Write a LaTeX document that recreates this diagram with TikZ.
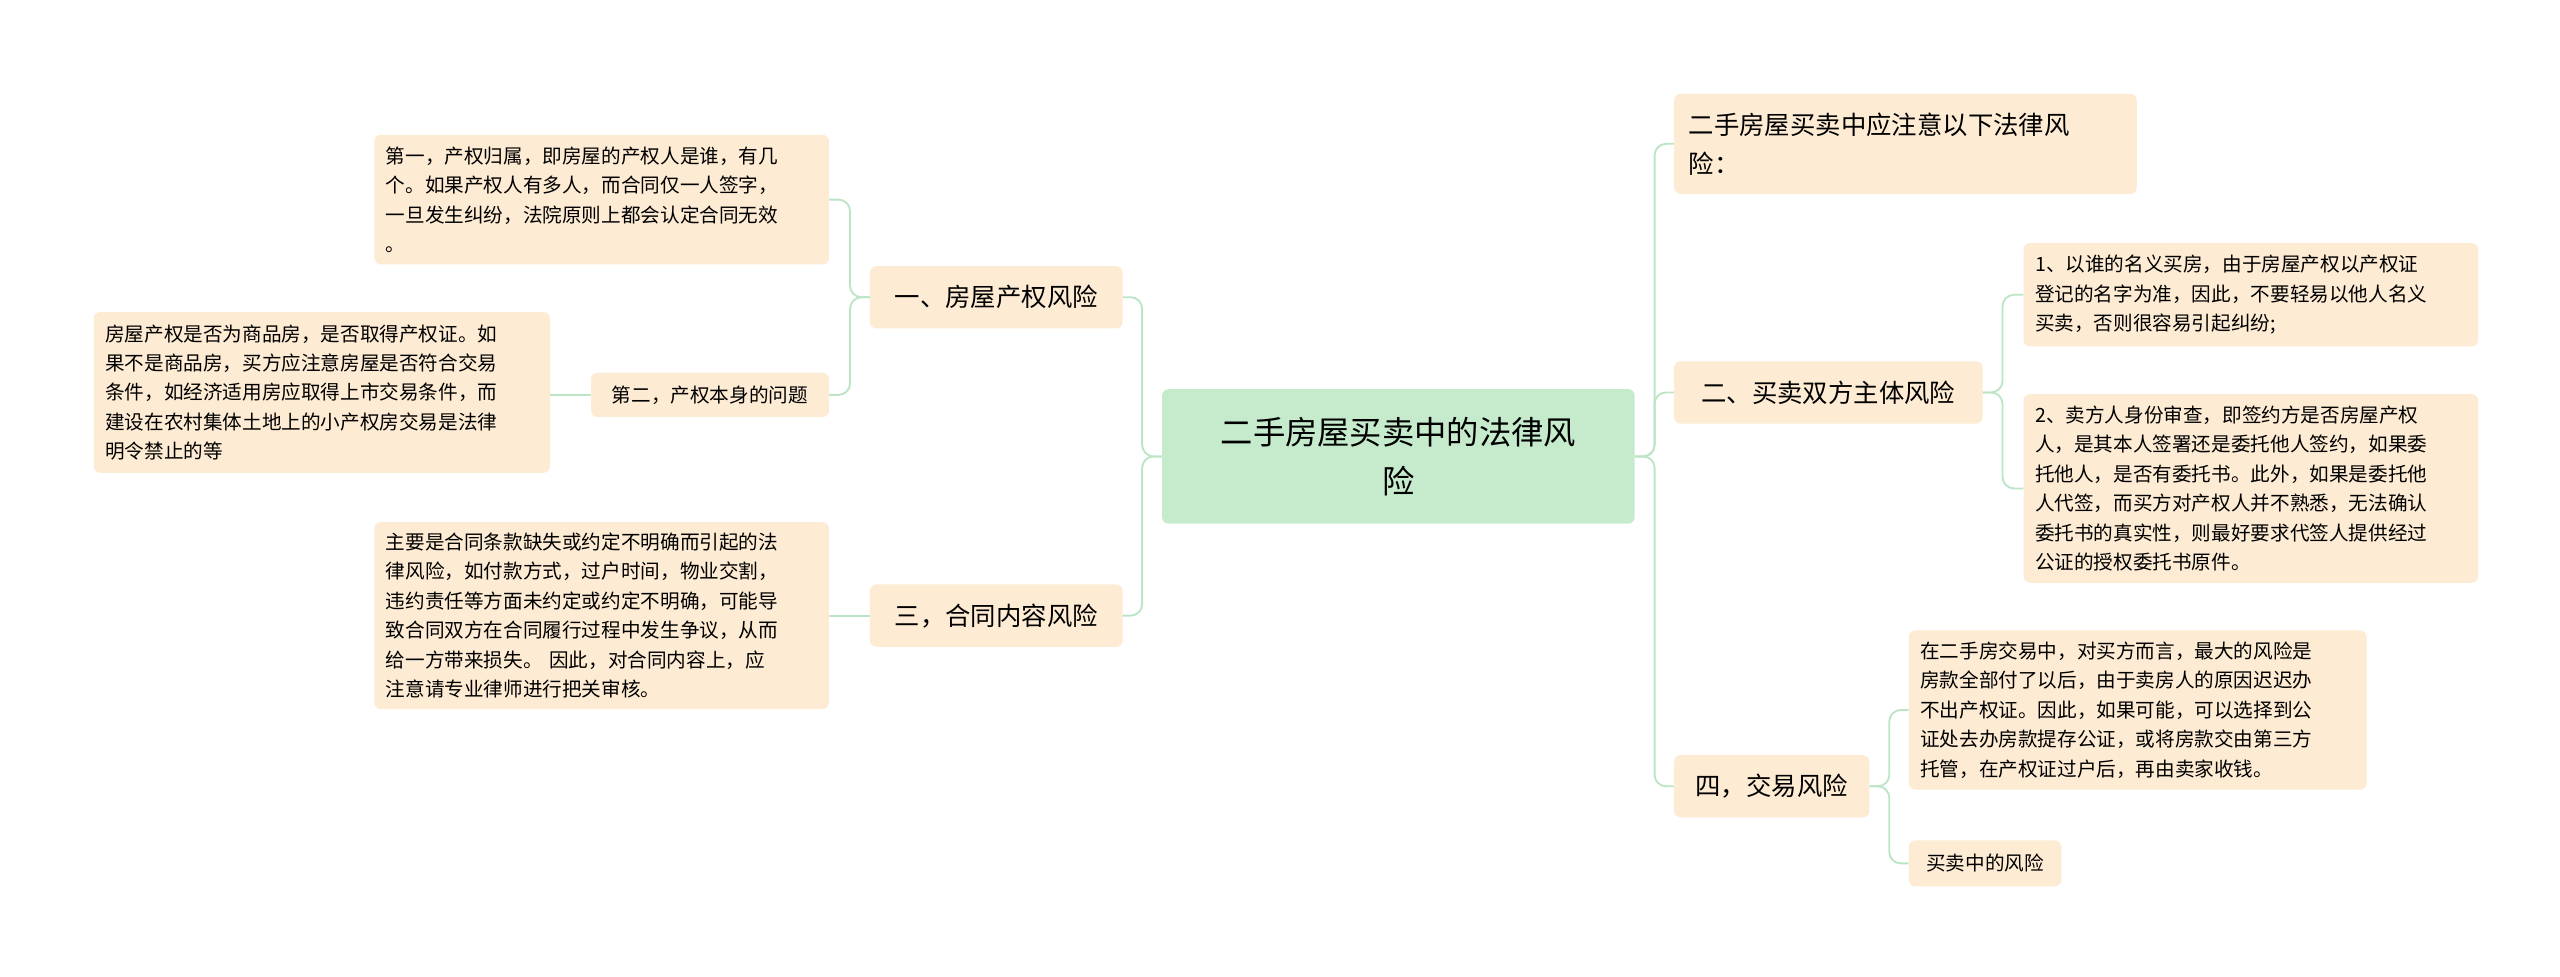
\documentclass[tikz,border=0pt]{standalone}
\usepackage{fontspec}
\setmainfont{Noto Sans CJK SC}
\begin{document}
\begin{tikzpicture}[x=0.05cm,y=-0.05cm,
  peach/.style={fill=peachc, rounded corners=0.2cm, inner sep=0pt, anchor=north west, align=left},
  leaf/.style={peach, font=\fontsize{17}{25.5}\selectfont, inner xsep=0.35cm, inner ysep=0.3cm},
  mid/.style={peach, font=\fontsize{22}{34}\selectfont, inner xsep=0.45cm},
  link/.style={draw=linkc, line width=1.6pt, rounded corners=0.35cm}]
\definecolor{peachc}{HTML}{FDEBD3}
\definecolor{linkc}{HTML}{BCE5C6}
\definecolor{greenc}{HTML}{C5EBCC}
\fill[white] (0,0) rectangle (1560,595);
\node[fill=greenc, rounded corners=0.2cm, minimum width=14.4cm, minimum height=4.1cm, align=center, font=\fontsize{28}{42}\selectfont, anchor=north west] (c) at (708,237) {二手房屋买卖中的法律风\\险};
% left
\node[mid, minimum width=7.7cm, minimum height=1.9cm] (l1) at (530,162) {一、房屋产权风险};
\node[leaf, text width=13.15cm, minimum height=3.95cm] (l1a) at (228,82) {第一，产权归属，即房屋的产权人是谁，有几\\个。如果产权人有多人，而合同仅一人签字，\\一旦发生纠纷，法院原则上都会认定合同无效\\。};
\node[peach, font=\fontsize{17}{25}\selectfont, minimum width=7.25cm, minimum height=1.35cm, inner xsep=0.35cm] (l2) at (360,227) {第二，产权本身的问题};
\node[leaf, text width=13.2cm, minimum height=4.9cm] (l2a) at (57,190) {房屋产权是否为商品房，是否取得产权证。如\\果不是商品房，买方应注意房屋是否符合交易\\条件，如经济适用房应取得上市交易条件，而\\建设在农村集体土地上的小产权房交易是法律\\明令禁止的等};
\node[mid, minimum width=7.7cm, minimum height=1.9cm] (l3) at (530,356) {三，合同内容风险};
\node[leaf, text width=13.15cm, minimum height=5.7cm] (l3a) at (228,318) {主要是合同条款缺失或约定不明确而引起的法\\律风险，如付款方式，过户时间，物业交割，\\违约责任等方面未约定或约定不明确，可能导\\致合同双方在合同履行过程中发生争议，从而\\给一方带来损失。 因此，对合同内容上，应\\注意请专业律师进行把关审核。};
% right
\node[mid, text width=13.2cm, minimum height=3.05cm, inner ysep=0.3cm] (r1) at (1020,57) {二手房屋买卖中应注意以下法律风\\险：};
\node[mid, minimum width=9.4cm, minimum height=1.9cm] (r2) at (1020,220) {二、买卖双方主体风险};
\node[leaf, text width=13.15cm, minimum height=3.15cm] (r2a) at (1233,148) {1、以谁的名义买房，由于房屋产权以产权证\\登记的名字为准，因此，不要轻易以他人名义\\买卖，否则很容易引起纠纷;};
\node[leaf, text width=13.15cm, minimum height=5.75cm] (r2b) at (1233,240) {2、卖方人身份审查，即签约方是否房屋产权\\人，是其本人签署还是委托他人签约，如果委\\托他人，是否有委托书。此外，如果是委托他\\人代签，而买方对产权人并不熟悉，无法确认\\委托书的真实性，则最好要求代签人提供经过\\公证的授权委托书原件。};
\node[mid, minimum width=5.95cm, minimum height=1.9cm] (r4) at (1020,460) {四，交易风险};
\node[leaf, text width=13.25cm, minimum height=4.85cm] (r4a) at (1163,384) {在二手房交易中，对买方而言，最大的风险是\\房款全部付了以后，由于卖房人的原因迟迟办\\不出产权证。因此，如果可能，可以选择到公\\证处去办房款提存公证，或将房款交由第三方\\托管，在产权证过户后，再由卖家收钱。};
\node[peach, font=\fontsize{17}{25}\selectfont, minimum width=4.65cm, minimum height=1.4cm, inner xsep=0.35cm] (r4b) at (1163,512) {买卖中的风险};
% links
\foreach \t in {l1,l3} \draw[link] (c.west) -- ++(-12,0) |- (\t.east);
\foreach \t in {l1a,l2} \draw[link] (l1.west) -- ++(-12,0) |- (\t.east);
\draw[link] (l2.west) -- (l2a.east |- l2.west);
\draw[link] (l3.west) -- (l3a.east |- l3.west);
\foreach \t in {r1,r2,r4} \draw[link] (c.east) -- ++(12,0) |- (\t.west);
\foreach \t in {r2a,r2b} \draw[link] (r2.east) -- ++(12,0) |- (\t.west);
\foreach \t in {r4a,r4b} \draw[link] (r4.east) -- ++(12,0) |- (\t.west);
\end{tikzpicture}
\end{document}
